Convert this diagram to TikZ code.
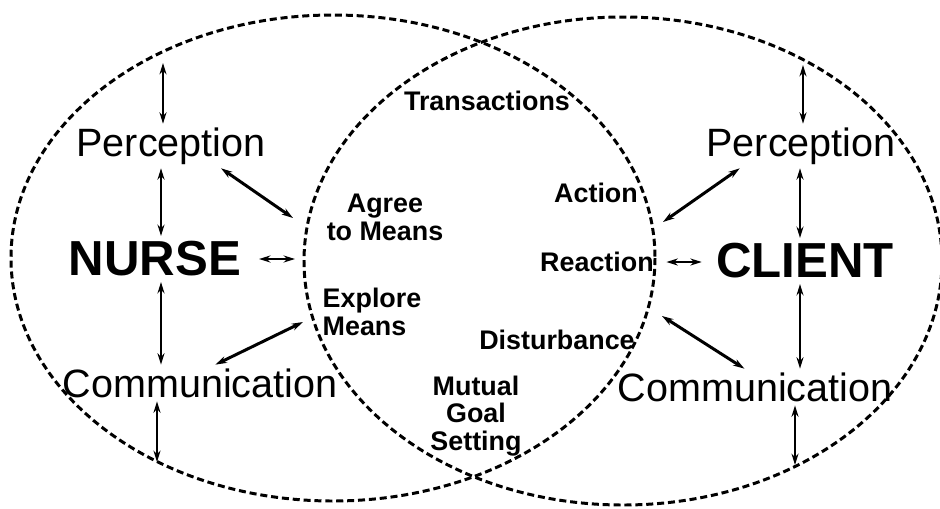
\documentclass[tikz,border=0pt]{standalone}
\usepackage{fontspec}
\setmainfont{Liberation Sans}
\usetikzlibrary{arrows.meta,positioning}
\tikzset{
  field/.style={draw=black, line width=1.7pt, dash pattern=on 4pt off 2.2pt},
  party/.style={font=\fontsize{28}{30}\selectfont\bfseries, inner sep=3pt},
  concept/.style={font=\fontsize{22.5}{24}\selectfont, inner sep=2pt},
  phase/.style={font=\fontsize{15.3}{15.8}\selectfont\bfseries, inner sep=1pt},
  link/.style={{Stealth[length=6.5pt,width=4pt]}-{Stealth[length=6.5pt,width=4pt]},
    line width=1pt},
  tie/.style={link, line width=1.7pt},
}

\begin{document}
\begin{tikzpicture}[x=0.02cm, y=-0.02cm]
  \useasboundingbox (0,0) rectangle (940,508);

  % the two fields
  \draw[field] (333,258) ellipse [x radius=322, y radius=243];
  \draw[field] (623,261) ellipse [x radius=319, y radius=244];

  % nurse side
  \node[concept] (lperc) at (171,146) {Perception};
  \node[party] (nurse) at (155,259) {NURSE};
  \node[concept] (lcomm) at (200,383) {Communication};

  % client side
  \node[concept] (rperc) at (801,146) {Perception};
  \node[party] (client) at (805,261) {CLIENT};
  \node[concept] (rcomm) at (755,387) {Communication};

  % transactions
  \node[phase] (trans) at (487,101) {Transactions};
  \node[phase, align=center] (agree) at (385,217) {Agree\\to Means};
  \node[phase, align=left] (explore) at (372,312) {Explore\\Means};
  \node[phase] (action) at (596,193) {Action};
  \node[phase] (reaction) at (597,262) {Reaction};
  \node[phase] (disturb) at (557,340) {Disturbance};
  \node[phase, align=center] (goal) at (476,416) {Mutual\\Goal\\Setting};

  % free ends
  \coordinate (ltop) at (163,63);
  \coordinate (lbot) at (157,462);
  \coordinate (rtop) at (803,65);
  \coordinate (rbot) at (795,465);
  \coordinate (lx) at (161,0);
  \coordinate (rx) at (800,0);
  \coordinate (lagree) at (293,218);
  \coordinate (lexplore) at (303,322);
  \coordinate (lmid) at (295,259);
  \coordinate (raction) at (663,222);
  \coordinate (rdisturb) at (662,316);

  % Arrows
  \draw[link] (ltop) -- (ltop |- lperc.north);
  \draw[link] (lperc.south -| lx) -- (nurse.north -| lx);
  \draw[link] (nurse.south -| lx) -- (lcomm.north -| lx);
  \draw[link] (lcomm.south -| lbot) -- (lbot);
  \draw[link, line width=1.4pt, shorten <=7pt] (nurse.east) -- (lmid);
  \draw[tie] (lperc.-24) -- (lagree);
  \draw[tie] (lcomm.50) -- (lexplore);

  \draw[link] (rtop) -- (rtop |- rperc.north);
  \draw[link] (rperc.south -| rx) -- (client.north -| rx);
  \draw[link] (client.south -| rx) -- (rcomm.north -| rx);
  \draw[link] (rcomm.south -| rbot) -- (rbot);
  \draw[link, line width=1.4pt, shorten <=6pt, shorten >=5pt]
    (reaction.east) -- (reaction.east -| client.west);
  \draw[tie] (rperc.200) -- (raction);
  \draw[tie] (rcomm.120) -- (rdisturb);

\end{tikzpicture}
\end{document}
